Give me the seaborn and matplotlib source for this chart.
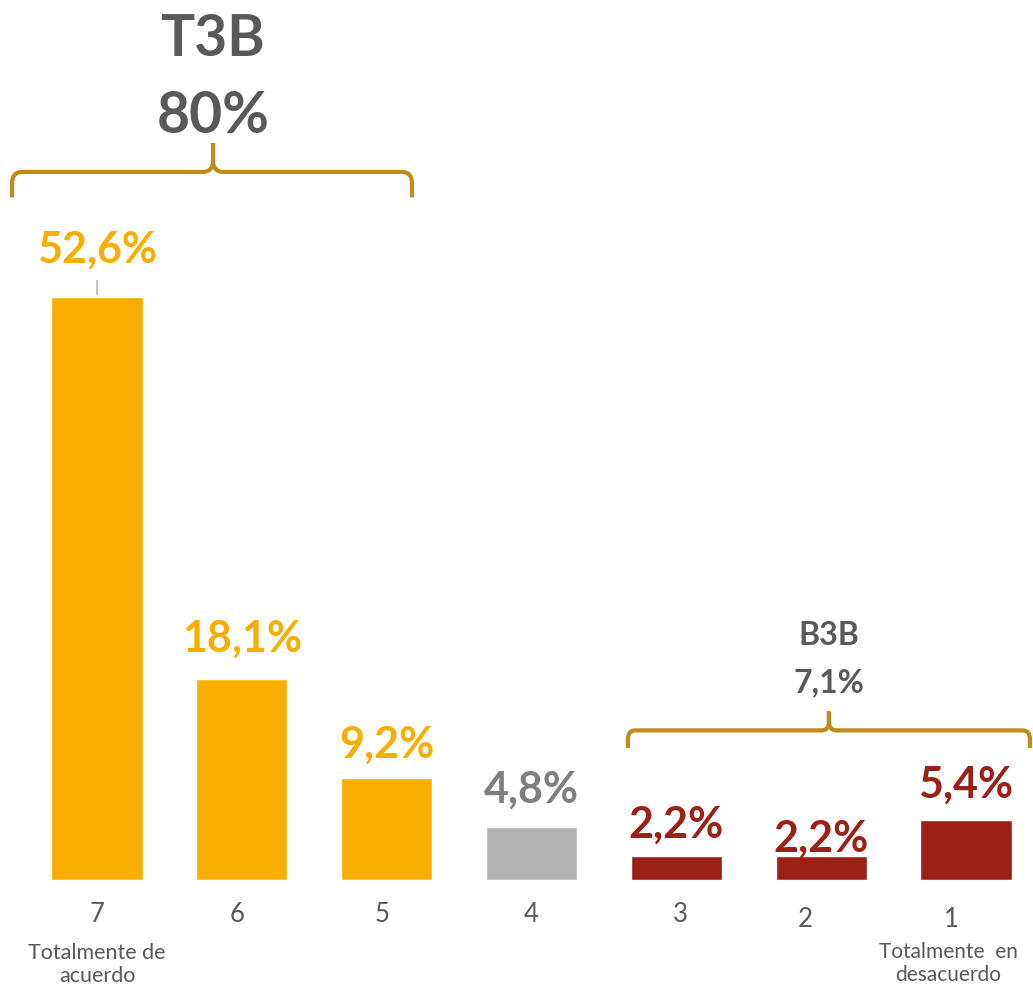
import matplotlib
matplotlib.use("Agg")
import matplotlib.pyplot as plt
from matplotlib.path import Path
from matplotlib.patches import PathPatch
import seaborn as sns
import pandas as pd

# data
categories = ["7", "6", "5", "4", "3", "2", "1"]
values = [52.6, 18.1, 9.2, 4.8, 2.2, 2.2, 5.4]
value_labels = ["52,6%", "18,1%", "9,2%", "4,8%", "2,2%", "2,2%", "5,4%"]
bar_colors = ["#F7AE00", "#F7AE00", "#F7AE00", "#B3B3B3", "#9B2015", "#9B2015", "#9B2015"]
label_colors = ["#F7AE00", "#F7AE00", "#F7AE00", "#7F7F7F", "#9B2015", "#9B2015", "#9B2015"]
t3b_label, t3b_value = "T3B", "80%"
b3b_label, b3b_value = "B3B", "7,1%"

# hand placed offsets in the original (points above bar, tick nudges)
label_offsets = [25, 20, 15, 17, 13, 3, 16]
tick_drop = [0, 0, 0, 0, 0, 0.45, 0.45]
tick_shift = [0, -0.03, -0.03, 0, 0.03, -0.11, -0.1]

GRAY = "#595959"
BRACE = "#C48B1C"

sns.set_theme(style="white")
plt.rcParams["font.family"] = ["Lato", "DejaVu Sans"]

df = pd.DataFrame({"cat": categories, "val": values})

fig = plt.figure(figsize=(10.33, 9.85), dpi=100)
ax = fig.add_axes([0, 0, 1, 1])
sns.barplot(data=df, x="cat", y="val", hue="cat", palette=bar_colors,
            order=categories, hue_order=categories, width=0.63,
            legend=False, ax=ax, saturation=1)
ax.set_xlim(-0.67, 6.463)
ax.set_ylim(-9.48, 79.42)
ax.axis("off")

# value labels
for i, (v, lab, c, off) in enumerate(zip(values, value_labels, label_colors, label_offsets)):
    ax.annotate(lab, (i, v), xytext=(0, off), textcoords="offset points",
                ha="center", va="baseline", fontsize=31, fontweight="bold", color=c)

# leader line on the biggest bar
ax.annotate("", (0, values[0]), xytext=(0, 14), textcoords="offset points",
            arrowprops=dict(arrowstyle="-", color="#A6A6A6", lw=1))

# category ticks
for i, (c, d, s) in enumerate(zip(categories, tick_drop, tick_shift)):
    ax.text(i + s, -3.8 - d, c, ha="center", va="baseline", fontsize=18.5, color=GRAY)
ax.text(0, -9.2, "Totalmente de\nacuerdo", ha="center", va="baseline",
        fontsize=15.5, color=GRAY, linespacing=1.2)
ax.text(5.88, -9.15, "Totalmente  en\ndesacuerdo", ha="center", va="baseline",
        fontsize=15, color=GRAY, linespacing=1.2)


def brace(xl, xr, xm, yb, yh, yt, rx, ry):
    verts = [(xl, yb), (xl, yh - ry), (xl, yh), (xl + rx, yh),
             (xm - rx, yh), (xm, yh), (xm, yh + ry), (xm, yt),
             (xm, yt), (xm, yh + ry), (xm, yh), (xm + rx, yh),
             (xr - rx, yh), (xr, yh), (xr, yh - ry), (xr, yb)]
    codes = [Path.MOVETO, Path.LINETO, Path.CURVE3, Path.CURVE3,
             Path.LINETO, Path.CURVE3, Path.CURVE3, Path.LINETO,
             Path.MOVETO, Path.LINETO, Path.CURVE3, Path.CURVE3,
             Path.LINETO, Path.CURVE3, Path.CURVE3, Path.LINETO]
    ax.add_patch(PathPatch(Path(verts, codes), fill=False, edgecolor=BRACE,
                           lw=3, capstyle="butt", joinstyle="round"))


# top 3 box
brace(-0.587, 2.175, 0.801, 61.6, 63.9, 66.5, 0.07, 1.0)
ax.text(0.80, 74.4, t3b_label, ha="center", va="baseline", fontsize=41,
        fontweight="bold", color=GRAY)
ax.text(0.80, 67.4, t3b_value, ha="center", va="baseline", fontsize=41,
        fontweight="bold", color=GRAY)

# bottom 3 box
brace(3.666, 6.442, 5.054, 11.9, 13.5, 15.2, 0.05, 0.8)
ax.text(5.054, 21.2, b3b_label, ha="center", va="baseline", fontsize=23,
        fontweight="bold", color=GRAY)
ax.text(5.054, 16.95, b3b_value, ha="center", va="baseline", fontsize=23,
        fontweight="bold", color=GRAY)

fig.savefig("out.png", dpi=100, facecolor="white")
